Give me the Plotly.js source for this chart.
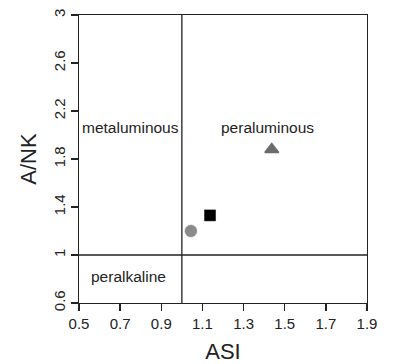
<!DOCTYPE html>
<html>
<head>
<meta charset="utf-8">
<script src="https://cdn.plot.ly/plotly-3.0.1.min.js"></script>
<style>
  html, body { margin: 0; padding: 0; background: #fff; }
  #chart { width: 398px; height: 364px; }
</style>
</head>
<body>
<div id="chart"></div>
<script>
// Sample points (ASI vs A/NK)
const sampleASI = [1.044, 1.137, 1.437];
const sampleANK = [1.20, 1.33, 1.88];
const sampleSymbols = ['circle', 'square', 'triangle-up'];
const sampleColors = ['#8a8a8a', '#000000', '#6b6b6b'];

// Field labels and their positions
const regionNames = ['metaluminous', 'peraluminous', 'peralkaline'];
const regionASI = [0.748, 1.416, 0.743];
const regionANK = [2.06, 2.06, 0.825];

// Field boundaries
const asiBoundary = 1;
const ankBoundary = 1;

// Axis ticks
const xTicks = [0.5, 0.7, 0.9, 1.1, 1.3, 1.5, 1.7, 1.9];
const yTicks = [0.6, 1, 1.4, 1.8, 2.2, 2.6, 3];
const xRange = [0.5, 1.9];
const yRange = [0.6, 3];

const FONT = 'Liberation Sans, Arial, sans-serif';
const LINE = '#222222';

const traces = sampleASI.map((x, i) => ({
  type: 'scatter',
  mode: 'markers',
  x: [x],
  y: [sampleANK[i]],
  showlegend: false,
  hoverinfo: 'x+y',
  marker: {
    symbol: sampleSymbols[i],
    color: sampleColors[i],
    size: sampleSymbols[i] === 'triangle-up' ? 12 : (sampleSymbols[i] === 'square' ? 11 : 12),
    line: sampleSymbols[i] === 'triangle-up'
      ? { color: sampleColors[i], width: 1.5 }
      : { color: sampleColors[i], width: 0.5 }
  }
}));

const axisCommon = {
  showgrid: false,
  zeroline: false,
  showline: true,
  mirror: true,
  linecolor: LINE,
  linewidth: 1.3,
  ticks: 'outside',
  ticklen: 7,
  tickwidth: 1.3,
  tickcolor: LINE,
  tickfont: { family: FONT, size: 15, color: '#222' },
  tickmode: 'array'
};

const layout = {
  width: 398,
  height: 364,
  margin: { l: 79, r: 31, t: 15, b: 61 },
  paper_bgcolor: '#ffffff',
  plot_bgcolor: '#ffffff',
  font: { family: FONT, color: '#222' },
  xaxis: Object.assign({}, axisCommon, {
    range: xRange,
    tickvals: xTicks,
    ticktext: xTicks.map(v => String(v)),
    title: { text: 'ASI', font: { family: FONT, size: 22, color: '#222' }, standoff: 12 }
  }),
  yaxis: Object.assign({}, axisCommon, {
    range: yRange,
    tickvals: yTicks,
    ticktext: yTicks.map(v => String(v)),
    tickangle: -90,
    title: { text: 'A/NK', font: { family: FONT, size: 22, color: '#222' }, standoff: 8 }
  }),
  shapes: [
    { type: 'line', xref: 'x', yref: 'paper', x0: asiBoundary, x1: asiBoundary, y0: 0, y1: 1,
      line: { color: LINE, width: 1.3 } },
    { type: 'line', xref: 'paper', yref: 'y', x0: 0, x1: 1, y0: ankBoundary, y1: ankBoundary,
      line: { color: LINE, width: 1.3 } }
  ],
  annotations: regionNames.map((t, i) => ({
    x: regionASI[i],
    y: regionANK[i],
    xref: 'x',
    yref: 'y',
    text: t,
    showarrow: false,
    font: { family: FONT, size: 15.5, color: '#222' }
  }))
};

Plotly.newPlot('chart', traces, layout, { displayModeBar: false, staticPlot: true });
</script>
</body>
</html>
